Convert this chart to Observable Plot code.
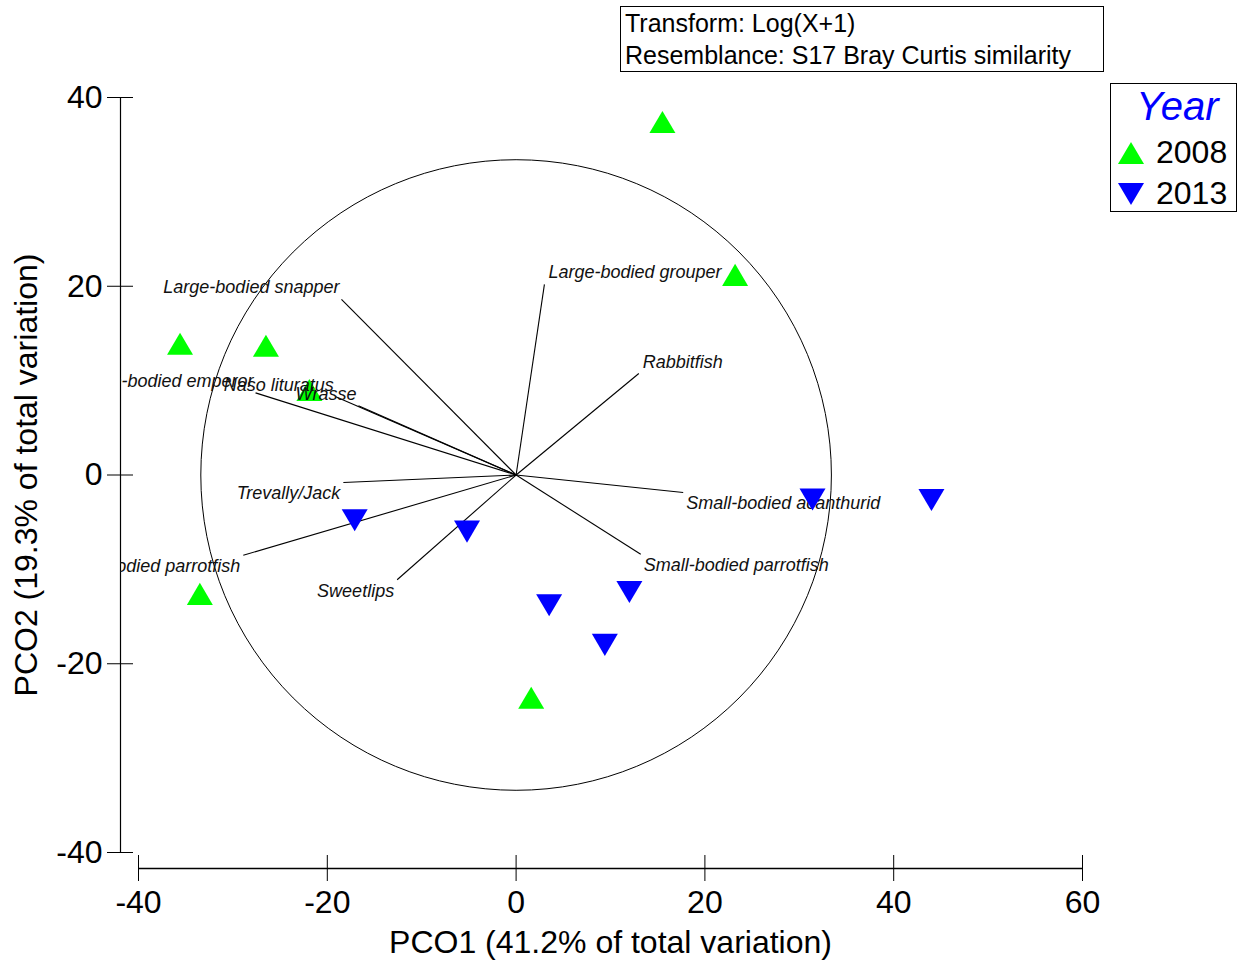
<!DOCTYPE html>
<html>
<head>
<meta charset="utf-8">
<script src="https://cdn.jsdelivr.net/npm/d3@7"></script>
<script src="https://cdn.jsdelivr.net/npm/@observablehq/plot@0.6"></script>
<style>
  body { margin: 0; background: #fff; font-family: "Liberation Sans", Arial, sans-serif; }
  #wrap { position: relative; width: 1244px; height: 960px; }
  #info { position: absolute; left: 620px; top: 6px; width: 478px; height: 64px; border: 1.5px solid #000;
          font-size: 25px; line-height: 32px; padding-left: 4px; color: #000; white-space: nowrap; }
  #legend { position: absolute; left: 1110px; top: 83px; width: 125px; height: 127px; border: 1.5px solid #000; }
  #legend .title { color: #0000ff; font-style: italic; font-size: 40px; text-align: center; line-height: 44px; padding-left: 8px; }
  #legend .row { display: flex; align-items: center; height: 41px; font-size: 32px; }
  #legend .row:nth-child(2) { margin-top: 4px; }
  #legend .row svg { margin-left: 7px; margin-right: 12px; }
</style>
</head>
<body>
<div id="wrap">
  <div id="chart"></div>
  <div id="info"></div>
  <div id="legend"></div>
</div>
<script>
// ---- data ----
const infoLines = ["Transform: Log(X+1)", "Resemblance: S17 Bray Curtis similarity"];
const years = ["2008", "2013"];
const yearColors = ["#00ff00", "#0000ff"];

const pts2008X = [15.5, 23.2, -35.6, -26.5, -21.9, -33.5, 1.6];
const pts2008Y = [37.4, 21.2, 13.9, 13.7, 9.0, -12.6, -23.6];
const pts2013X = [-17.1, -5.2, 31.4, 44.0, 12.0, 3.5, 9.4];
const pts2013Y = [-4.8, -6.0, -2.6, -2.65, -12.4, -13.8, -18.0];

const vectorNames = ["Large-bodied snapper", "Large-bodied grouper", "Rabbitfish", "Large-bodied emperor",
  "Naso lituratus", "Wrasse", "Trevally/Jack", "Large-bodied parrotfish", "Sweetlips",
  "Small-bodied acanthurid", "Small-bodied parrotfish"];
const vectorX = [-18.5, 3.0, 13.0, -27.6, -19.1, -16.7, -18.3, -28.9, -12.6, 17.7, 13.2];
const vectorY = [18.6, 20.2, 10.75, 8.7, 8.3, 7.35, -0.8, -8.5, -11.1, -1.85, -8.4];

const circleRadius = 33.4;

const xTicks = [-40, -20, 0, 20, 40, 60];
const yTicks = [-40, -20, 0, 20, 40];
const xLabel = "PCO1 (41.2% of total variation)";
const yLabel = "PCO2 (19.3% of total variation)";

// ---- build tables ----
const points = [
  ...pts2008X.map((x, i) => ({x, y: pts2008Y[i], year: years[0]})),
  ...pts2013X.map((x, i) => ({x, y: pts2013Y[i], year: years[1]}))
];
const vectors = vectorNames.map((name, i) => ({name, x: vectorX[i], y: vectorY[i]}));

const triUp = {draw(ctx, size) { const r = Math.sqrt(size / Math.PI);
  ctx.moveTo(0, -r * 0.85); ctx.lineTo(r, r * 0.85); ctx.lineTo(-r, r * 0.85); ctx.closePath(); }};
const triDown = {draw(ctx, size) { const r = Math.sqrt(size / Math.PI);
  ctx.moveTo(0, r * 0.85); ctx.lineTo(r, -r * 0.85); ctx.lineTo(-r, -r * 0.85); ctx.closePath(); }};

const xDomain = [-40, 60], yDomain = [-40, 40];
const xRange = [138, 1082], yRange = [852, 97];
const font = '"Liberation Sans", Arial, sans-serif';
const labelStyle = {fontSize: 18, fontStyle: "italic", fill: "#111", clip: true};

const chart = Plot.plot({
  width: 1244, height: 960,
  marginLeft: 120, marginRight: 144, marginTop: 97, marginBottom: 108,
  x: {domain: xDomain, range: xRange},
  y: {domain: yDomain, range: yRange},
  r: {type: "linear", domain: [0, xDomain[1] - xDomain[0]], range: [0, xRange[1] - xRange[0]]},
  style: {fontFamily: font, background: "white", color: "black"},
  marks: [
    // axis lines
    Plot.ruleX([xDomain[0]], {y1: yDomain[0], y2: yDomain[1], dx: -18, stroke: "black", strokeWidth: 1.2}),
    Plot.ruleY([yDomain[0]], {x1: xDomain[0], x2: xDomain[1], dy: 16, stroke: "black", strokeWidth: 1.5}),
    // ticks crossing the axis lines
    Plot.axisY(yTicks, {anchor: "left", tickSize: 26, dx: 13, fill: "none", label: null}),
    Plot.axisY(yTicks, {anchor: "left", tickSize: 0, tickPadding: 18, fontSize: 32, tickFormat: d => String(d),
      label: yLabel, labelAnchor: "center", labelOffset: 106, labelArrow: "none"}),
    Plot.axisX(xTicks, {anchor: "bottom", tickSize: 26, dy: 3, fill: "none", label: null}),
    Plot.axisX(xTicks, {anchor: "bottom", tickSize: 0, tickPadding: 38, fontSize: 32, tickFormat: d => String(d),
      label: xLabel, labelAnchor: "center", labelOffset: 100, labelArrow: "none"}),
    // correlation circle
    Plot.dot([{x: 0, y: 0, r: circleRadius}], {x: "x", y: "y", r: "r", stroke: "black", fill: "none", strokeWidth: 1}),
    // vectors
    Plot.link(vectors, {x1: 0, y1: 0, x2: "x", y2: "y", stroke: "black", strokeWidth: 1.1}),
    // 2008 samples (under the labels)
    Plot.dot(points.filter(d => d.year === years[0]), {x: "x", y: "y", symbol: triUp, r: 13, fill: yearColors[0], stroke: "none"}),
    // vector labels
    Plot.text(vectors.filter(d => d.x >= 0 && d.y >= 0), {x: "x", y: "y", text: "name", textAnchor: "start", lineAnchor: "bottom", dx: 4, dy: -6, ...labelStyle}),
    Plot.text(vectors.filter(d => d.x < 0 && d.y >= 0), {x: "x", y: "y", text: "name", textAnchor: "end", lineAnchor: "bottom", dx: -2, dy: -6, ...labelStyle}),
    Plot.text(vectors.filter(d => d.x >= 0 && d.y < 0), {x: "x", y: "y", text: "name", textAnchor: "start", lineAnchor: "top", dx: 3, dy: 4, ...labelStyle}),
    Plot.text(vectors.filter(d => d.x < 0 && d.y < 0), {x: "x", y: "y", text: "name", textAnchor: "end", lineAnchor: "top", dx: -3, dy: 4, ...labelStyle}),
    // 2013 samples (over the labels)
    Plot.dot(points.filter(d => d.year === years[1]), {x: "x", y: "y", symbol: triDown, r: 13, fill: yearColors[1], stroke: "none"})
  ]
});
document.getElementById("chart").appendChild(chart);

// info box
document.getElementById("info").innerHTML = infoLines.map(t => `<div>${t}</div>`).join("");

// legend
const leg = document.getElementById("legend");
leg.innerHTML = `<div class="title">Year</div>` + years.map((yr, i) => {
  const pts = i === 0 ? "13,0 26,22 0,22" : "0,0 26,0 13,22";
  return `<div class="row"><svg width="26" height="22"><polygon points="${pts}" fill="${yearColors[i]}"/></svg><span>${yr}</span></div>`;
}).join("");
</script>
</body>
</html>
